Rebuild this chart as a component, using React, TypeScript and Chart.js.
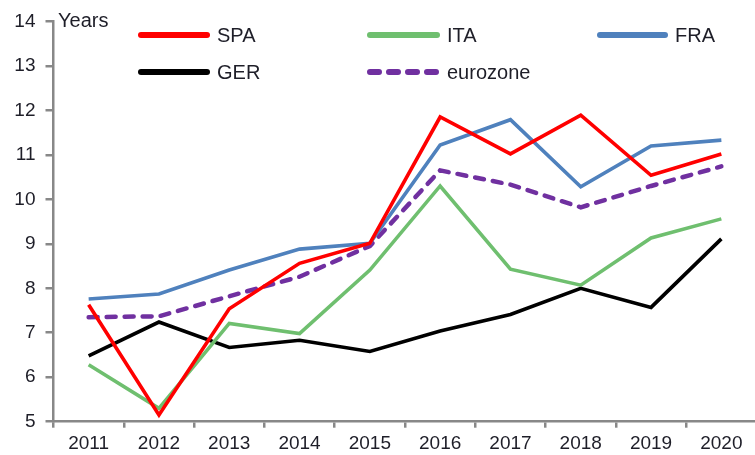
import React, { useEffect, useRef } from "react";
import { Chart, registerables } from "chart.js";

Chart.register(...registerables);

const years = ["2011", "2012", "2013", "2014", "2015", "2016", "2017", "2018", "2019", "2020"];
const spa = [7.63, 5.15, 7.54, 8.56, 9.01, 11.85, 11.02, 11.89, 10.54, 11.02];
const ita = [6.28, 5.3, 7.21, 6.98, 8.41, 10.3, 8.43, 8.07, 9.13, 9.56];
const fra = [7.76, 7.87, 8.41, 8.88, 9.01, 11.22, 11.79, 10.28, 11.2, 11.33];
const ger = [6.48, 7.24, 6.67, 6.83, 6.58, 7.04, 7.41, 8.0, 7.57, 9.11];
const eurozone = [7.35, 7.37, 7.82, 8.26, 8.95, 10.65, 10.33, 9.82, 10.3, 10.74];
const yMin = 5;
const yMax = 14;
const unitLabel = "Years";

const FONT = "'Liberation Sans', Arial, sans-serif";
const TEXT = "#1e1e28";
const AXIS = "#888888";

// legend slots: [x start, x end, y]
const legendSlots = [
  [138, 210, 35],
  [367, 440, 35],
  [597, 668, 35],
  [138, 210, 72],
  [367, 440, 72],
];

const legendPlugin = {
  id: "customLegend",
  afterDraw(chart: any) {
    const ctx = chart.ctx;
    ctx.save();
    ctx.font = `20px ${FONT}`;
    ctx.fillStyle = TEXT;
    ctx.textBaseline = "middle";
    ctx.textAlign = "left";
    ctx.fillText(unitLabel, 58, 21);
    chart.data.datasets.forEach((ds: any, i: number) => {
      const slot = legendSlots[i];
      if (!slot) return;
      const [x0, x1, y] = slot;
      ctx.beginPath();
      ctx.lineWidth = 6;
      ctx.lineCap = "round";
      ctx.strokeStyle = ds.borderColor;
      ctx.setLineDash(ds.borderDash && ds.borderDash.length ? [9, 10] : []);
      ctx.moveTo(x0 + 3, y);
      ctx.lineTo(x1 - 3, y);
      ctx.stroke();
      ctx.setLineDash([]);
      ctx.fillStyle = TEXT;
      ctx.fillText(ds.label, x1 + 7, y + 1);
    });
    ctx.restore();
  },
};

export default function App() {
  const ref = useRef<HTMLCanvasElement | null>(null);
  useEffect(() => {
    if (!ref.current) return;
    const mk = (label: string, data: number[], color: string, extra: any = {}) => ({
      label,
      data,
      borderColor: color,
      backgroundColor: color,
      borderWidth: 3.6,
      pointRadius: 0,
      tension: 0,
      fill: false,
      ...extra,
    });
    const chart = new Chart(ref.current, {
      type: "line",
      data: {
        labels: years,
        datasets: [
          mk("SPA", spa, "#ff0000"),
          mk("ITA", ita, "#6fbf6f"),
          mk("FRA", fra, "#4f81bd"),
          mk("GER", ger, "#000000"),
          mk("eurozone", eurozone, "#7030a0", {
            borderDash: [9, 9],
            borderCapStyle: "round",
            borderWidth: 4.5,
          }),
        ],
      },
      options: {
        responsive: false,
        animation: false,
        devicePixelRatio: 1,
        layout: { padding: { top: 17, right: 3.5, left: 0, bottom: 0 } },
        plugins: { legend: { display: false }, tooltip: { enabled: false } },
        scales: {
          x: {
            type: "category",
            offset: true,
            grid: {
              offset: true,
              drawOnChartArea: false,
              drawTicks: true,
              tickLength: 6,
              color: AXIS,
              tickColor: AXIS,
              lineWidth: 2.5,
              tickWidth: 2.5,
            },
            border: { display: true, color: AXIS, width: 2.5 },
            ticks: {
              color: TEXT,
              font: { family: FONT, size: 19 },
              padding: 5,
              maxRotation: 0,
              autoSkip: false,
            },
            afterFit: (s: any) => {
              s.height = 33.3;
            },
          },
          y: {
            min: yMin,
            max: yMax,
            grid: {
              drawOnChartArea: false,
              drawTicks: true,
              tickLength: 8,
              color: AXIS,
              tickColor: AXIS,
              lineWidth: 2.5,
              tickWidth: 2.5,
            },
            border: { display: true, color: AXIS, width: 2.5 },
            ticks: {
              stepSize: 1,
              color: TEXT,
              font: { family: FONT, size: 19 },
              padding: 10,
            },
            afterFit: (s: any) => {
              s.width = 53.5;
            },
          },
        },
      },
      plugins: [legendPlugin],
    });
    return () => chart.destroy();
  }, []);
  return (
    <div
      style={{
        position: "fixed",
        left: 0,
        top: 0,
        width: 755,
        height: 455,
        overflow: "hidden",
        background: "#fff",
      }}
    >
      <canvas ref={ref} width={760} height={455} style={{ width: 760, height: 455, display: "block" }} />
    </div>
  );
}
